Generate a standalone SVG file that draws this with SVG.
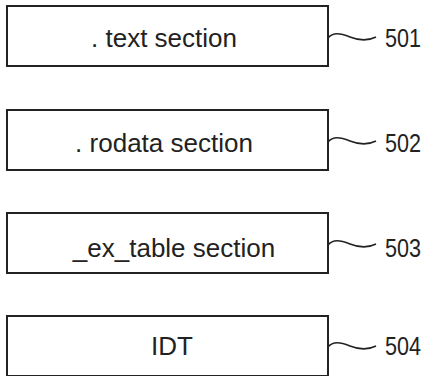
<svg xmlns="http://www.w3.org/2000/svg" width="430" height="376" viewBox="0 0 430 376">
<style>
.box{fill:#fff;stroke:#222;stroke-width:2}
.t{font-family:"Liberation Sans",Arial,sans-serif;font-size:26px;fill:#222;text-anchor:middle}
.lbl{font-family:"Liberation Sans",Arial,sans-serif;font-size:26px;fill:#222}
.lead{fill:none;stroke:#222;stroke-width:1.6}
</style>
<rect width="430" height="376" fill="#fff"/>
<g id="node-501">
<rect class="box" x="7" y="6" width="321" height="60"/>
<text class="t" x="164" y="47">. text section</text>
</g>
<g id="node-502">
<rect class="box" x="7" y="110" width="321" height="60"/>
<text class="t" x="164" y="152">. rodata section</text>
</g>
<g id="node-503">
<rect class="box" x="7" y="213" width="321" height="60"/>
<text class="t" x="174" y="257">_ex_table section</text>
</g>
<g id="node-504">
<rect class="box" x="7" y="316" width="321" height="60"/>
<text class="t" x="172" y="355">IDT</text>
</g>
<g id="connectors">
<path class="lead" d="M328,38 C333,32 340,33 350,37 S368,41 376,37"/>
<path class="lead" d="M328,142 C333,136 340,137 350,141 S368,145 376,141"/>
<path class="lead" d="M328,245 C333,239 340,240 350,244 S368,248 376,244"/>
<path class="lead" d="M328,347 C333,341 340,342 350,346 S368,350 376,346"/>
</g>
<g id="labels">
<text class="lbl" x="385" y="47" textLength="36" lengthAdjust="spacingAndGlyphs">501</text>
<text class="lbl" x="385" y="152" textLength="36" lengthAdjust="spacingAndGlyphs">502</text>
<text class="lbl" x="385" y="257" textLength="36" lengthAdjust="spacingAndGlyphs">503</text>
<text class="lbl" x="385" y="355" textLength="36" lengthAdjust="spacingAndGlyphs">504</text>
</g>
</svg>
